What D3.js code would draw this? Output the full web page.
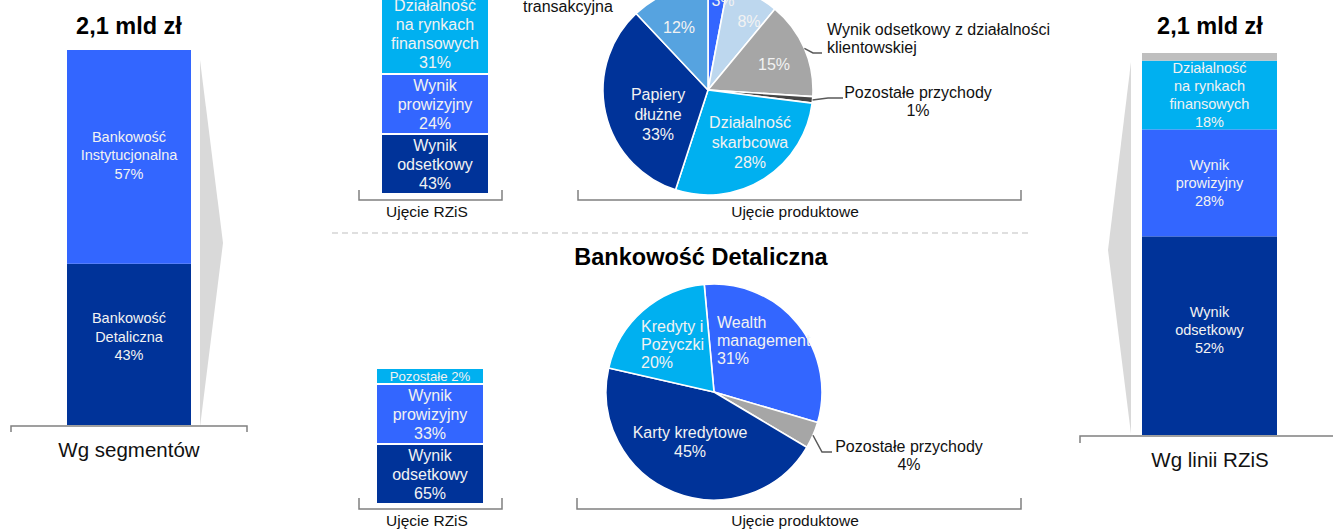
<!DOCTYPE html>
<html><head><meta charset="utf-8">
<script src="https://cdn.jsdelivr.net/npm/d3@7"></script>
<style>
html,body{margin:0;padding:0;background:#fff;overflow:hidden}
svg{display:block;font-family:"Liberation Sans",Arial,sans-serif}
</style></head><body>
<svg id="chart" width="1333" height="529"></svg>
<script>
// ---- data ----
const totalLabel = "2,1 mld zł";

// Revenue by segment
const segmentLabels = ["Bankowość\nDetaliczna", "Bankowość\nInstytucjonalna"];
const segmentValues = [43, 57];

// Revenue by P&L line (whole bank)
const pnlLabels = ["Wynik\nodsetkowy", "Wynik\nprowizyjny", "Działalność\nna rynkach\nfinansowych", ""];
const pnlValues = [52, 28, 18, 2];

// Institutional banking – P&L view
const instPnlLabels = ["Wynik\nodsetkowy", "Wynik\nprowizyjny", "Działalność\nna rynkach\nfinansowych"];
const instPnlValues = [43, 24, 31];

// Institutional banking – product view
const instProductLabels = ["", "", "Wynik odsetkowy z działalności\nklientowskiej", "Pozostałe przychody",
                           "Działalność\nskarbcowa", "Papiery\ndłużne", "transakcyjna"];
const instProductValues = [3, 8, 15, 1, 28, 33, 12];

// Retail banking – P&L view
const retailPnlLabels = ["Wynik\nodsetkowy", "Wynik\nprowizyjny", "Pozostałe"];
const retailPnlValues = [65, 33, 2];

// Retail banking – product view
const retailProductLabels = ["Wealth\nmanagement", "Pozostałe przychody", "Karty kredytowe", "Kredyty i\nPożyczki"];
const retailProductValues = [31, 4, 45, 20];

// ---- styling ----
const COL = {
  navy: "#003399", blue: "#3366ff", cyan: "#00b0f0", sky: "#56a3e0",
  pale: "#bdd7ee", grey: "#a6a6a6", dark: "#454545", light: "#bfbfbf",
  chevron: "#d9d9d9", rule: "#808080", inText: "#f2f2f2", text: "#111"
};

const svg = d3.select("#chart");
const pct = v => `${v}%`;

function multiline(g, lines, x, y0, lh, opts) {
  lines.forEach((t, i) => {
    g.append("text")
      .attr("x", x).attr("y", y0 + i * lh)
      .attr("text-anchor", opts.anchor || "middle")
      .attr("font-size", opts.size)
      .attr("font-weight", opts.weight || "normal")
      .attr("fill", opts.fill)
      .text(t);
  });
}

function bracket(x0, x1, y, tick) {
  svg.append("path")
    .attr("d", `M${x0},${y + tick}V${y}H${x1}V${y + tick}`)
    .attr("fill", "none").attr("stroke", COL.rule).attr("stroke-width", 1.5);
}

// ---- proportional stacked column ----
function stackedColumn(cfg) {
  const y = d3.scaleLinear().domain([0, d3.sum(cfg.values)]).range([cfg.bottom, cfg.top]);
  const ends = Array.from(d3.cumsum(cfg.values));
  const g = svg.append("g");
  cfg.values.forEach((v, i) => {
    const y0 = y(ends[i] - v), y1 = y(ends[i]);
    g.append("rect").attr("x", cfg.x0).attr("width", cfg.x1 - cfg.x0)
      .attr("y", y1).attr("height", y0 - y1).attr("fill", cfg.colors[i]);
    if (!cfg.labels[i]) return;
    const lines = cfg.labels[i].split("\n").concat(pct(v));
    const cy = (y0 + y1) / 2 + cfg.shift[i];
    const first = cy - (lines.length - 1) / 2 * cfg.lh + cfg.size * 0.36;
    multiline(g, lines, (cfg.x0 + cfg.x1) / 2, first, cfg.lh, {size: cfg.size, fill: COL.inText});
  });
}

stackedColumn({x0: 67, x1: 191, top: 50, bottom: 425, values: segmentValues,
  labels: segmentLabels, colors: [COL.navy, COL.blue], size: 14.5, lh: 18.5, shift: [-8, -2]});

stackedColumn({x0: 1142, x1: 1277, top: 53, bottom: 435, values: pnlValues,
  labels: pnlLabels, colors: [COL.navy, COL.blue, COL.cyan, COL.light], size: 14.5, lh: 18, shift: [-6, 0, 0, 0]});

// ---- label boxes (P&L view of each segment) ----
const boxHeight = d3.scaleLinear().domain([2, 20]).range([16, 60]).clamp(true);

function boxColumn(cfg) {
  const g = svg.append("g");
  let base = cfg.bottom;
  cfg.values.forEach((v, i) => {
    const nameLines = cfg.labels[i].split("\n");
    const h0 = boxHeight(v);
    const small = h0 < 30;
    const lines = small ? [cfg.labels[i] + " " + pct(v)] : nameLines.concat(pct(v));
    const h = h0 + Math.max(0, lines.length - 3) * 22;
    const top = base - h;
    g.append("rect").attr("x", cfg.x0).attr("width", cfg.x1 - cfg.x0)
      .attr("y", top + 1).attr("height", h - 2).attr("fill", cfg.colors[i]);
    const size = small ? 13.2 : 16, lh = 19;
    const cy = top + h / 2;
    const first = cy - (lines.length - 1) / 2 * lh + size * 0.4;
    multiline(g, lines, (cfg.x0 + cfg.x1) / 2, first, lh, {size, fill: COL.inText});
    base = top;
  });
}

boxColumn({x0: 382, x1: 488, bottom: 194, values: instPnlValues, labels: instPnlLabels,
  colors: [COL.navy, COL.blue, COL.cyan]});
boxColumn({x0: 377, x1: 483, bottom: 504, values: retailPnlValues, labels: retailPnlLabels,
  colors: [COL.navy, COL.blue, COL.cyan]});

// ---- pies (product view) ----
function pieChart(cfg) {
  const g = svg.append("g").attr("transform", `translate(${cfg.cx},${cfg.cy})`);
  const pie = d3.pie().sort(null).value(d => d)
    .startAngle(cfg.start).endAngle(cfg.start + 2 * Math.PI);
  const arcs = pie(cfg.values);
  const arc = d3.arc().innerRadius(0).outerRadius(cfg.r);
  const edge = d3.arc().innerRadius(cfg.r).outerRadius(cfg.r);
  g.selectAll("path.slice").data(arcs).join("path").attr("class", "slice")
    .attr("d", arc).attr("fill", (d, i) => cfg.colors[i])
    .attr("stroke", "#fff").attr("stroke-width", 1.6).attr("stroke-linejoin", "round");

  arcs.forEach((d, i) => {
    const lay = cfg.layout[i];
    const name = cfg.labels[i] ? cfg.labels[i].split("\n") : [];
    const v = pct(cfg.values[i]);
    if (lay.inner) {
      const L = lay.inner;
      const lines = L.parts === "pct" ? [v] : name.concat(v);
      multiline(g, lines, L.dx, L.dy, L.lh || 19, {size: 16, fill: COL.inText, anchor: L.anchor});
    }
    if (lay.outer) {
      const L = lay.outer;
      const lines = L.parts === "name" ? name : name.concat(v);
      if (L.leader) {
        const p = edge.centroid(d);
        g.append("path")
          .attr("d", `M${p[0]},${p[1]}L${L.leader[0][0]},${L.leader[0][1]}L${L.leader[1][0]},${L.leader[1][1]}`)
          .attr("fill", "none").attr("stroke", "#595959").attr("stroke-width", 1.5);
      }
      multiline(g, lines, L.dx, L.dy, L.lh || 18, {size: 16, fill: COL.text, anchor: L.anchor});
    }
  });
}

pieChart({
  cx: 708, cy: 90, r: 105, start: 0,
  values: instProductValues, labels: instProductLabels,
  colors: [COL.blue, COL.pale, COL.grey, COL.dark, COL.cyan, COL.navy, COL.sky],
  layout: [
    {inner: {dx: 15, dy: -84, parts: "pct"}},
    {inner: {dx: 41, dy: -63, parts: "pct"}},
    {inner: {dx: 66, dy: -20, parts: "pct"},
     outer: {dx: 119, dy: -55, lh: 18, anchor: "start", parts: "name", leader: [[105, -37], [114, -37]]}},
    {outer: {dx: 210, dy: 8, lh: 18, leader: [[120, 8], [135, 8]]}},
    {inner: {dx: 42, dy: 38, lh: 20}},
    {inner: {dx: -50, dy: 10, lh: 20}},
    {inner: {dx: -29, dy: -57, parts: "pct"},
     outer: {dx: -185, dy: -78, anchor: "start", parts: "name"}}
  ]
});

pieChart({
  cx: 714, cy: 392, r: 108, start: -5.2 * Math.PI / 180,
  values: retailProductValues, labels: retailProductLabels,
  colors: [COL.blue, COL.grey, COL.navy, COL.cyan],
  layout: [
    {inner: {dx: 3, dy: -64, lh: 18, anchor: "start"}},
    {outer: {dx: 195, dy: 60, lh: 18, leader: [[108, 60], [118, 60]]}},
    {inner: {dx: -24, dy: 46, lh: 19}},
    {inner: {dx: -73, dy: -60, lh: 18, anchor: "start"}}
  ]
});

// ---- chevrons linking the outer columns ----
svg.append("path").attr("d", "M200,60L223,243L200,427Z").attr("fill", COL.chevron);
svg.append("path").attr("d", "M1131,62L1108,250L1131,434Z").attr("fill", COL.chevron);

// ---- headings ----
const head = {size: 23.5, weight: "bold", fill: "#000"};
multiline(svg, [totalLabel], 129, 34, 0, head);
multiline(svg, [totalLabel], 1210, 34, 0, head);
multiline(svg, ["Bankowość Detaliczna"], 701, 265, 0, {size: 23.5, weight: "bold", fill: "#000"});

// ---- section divider ----
svg.append("line").attr("x1", 332).attr("x2", 1030).attr("y1", 233).attr("y2", 233)
  .attr("stroke", COL.light).attr("stroke-width", 1.2).attr("stroke-dasharray", "6,4");

// ---- brackets and captions ----
bracket(11, 247, 426, 6);
multiline(svg, ["Wg segmentów"], 129, 457, 0, {size: 20.5, fill: COL.text});
bracket(1080, 1345, 436, 7);
multiline(svg, ["Wg linii RZiS"], 1210, 467, 0, {size: 20.5, fill: COL.text});

bracket(359, 502, 200, -10);
bracket(578, 1021, 200, -10);
multiline(svg, ["Ujęcie RZiS"], 427, 217, 0, {size: 15.5, fill: COL.text});
multiline(svg, ["Ujęcie produktowe"], 795, 217, 0, {size: 15.5, fill: COL.text});

bracket(359, 502, 509, -11);
bracket(577, 1021, 509, -11);
multiline(svg, ["Ujęcie RZiS"], 427, 526, 0, {size: 15.5, fill: COL.text});
multiline(svg, ["Ujęcie produktowe"], 795, 526, 0, {size: 15.5, fill: COL.text});
</script>
</body></html>
